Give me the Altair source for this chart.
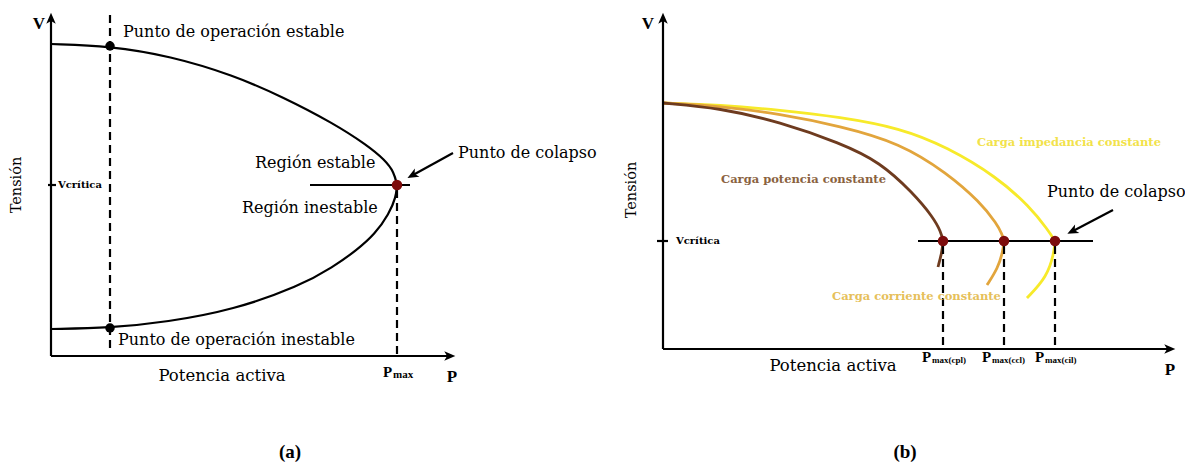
import altair as alt
import pandas as pd

# ---------------- data (diagram coordinates) ----------------
# Panel (a): nose curve, upper (stable) and lower (unstable) branches
a_upper_x = [51, 110, 170, 233, 283, 333, 367, 385, 394, 397]
a_upper_y = [44, 46, 56, 75, 97, 123, 145, 160, 172, 185]
a_lower_x = [397, 396, 389, 375, 357, 333, 300, 233, 167, 110, 51]
a_lower_y = [185, 197, 214, 234, 250, 267, 286, 310, 322, 328, 329]

# Panel (b): three load curves, above and below the collapse point
cpl_up_x = [663, 720, 780, 840, 880, 913, 933, 941, 943]
cpl_up_y = [103, 108, 122, 143, 162, 193, 217, 232, 241]
cpl_lo_x = [943, 942, 938]
cpl_lo_y = [241, 252, 267]
ccl_up_x = [663, 720, 780, 840, 900, 947, 980, 997, 1002, 1004]
ccl_up_y = [103, 106, 114, 126, 143, 173, 202, 224, 234, 241]
ccl_lo_x = [1004, 1003, 998, 987]
ccl_lo_y = [241, 251, 268, 285]
cil_up_x = [663, 720, 780, 840, 900, 947, 997, 1030, 1048, 1055]
cil_up_y = [103, 105, 110, 117, 128, 147, 177, 207, 230, 241]
cil_lo_x = [1055, 1054, 1047, 1027]
cil_lo_y = [241, 253, 277, 298]

# solid segments: x, y, x2, y2
solid_x = [51, 51, 310, 48, 663, 663, 918, 657, 453, 1113]
solid_y = [18, 356, 185, 185, 18, 349, 241, 241, 153, 210]
solid_x2 = [51, 448, 410, 56, 663, 1168, 1093, 668, 413, 1073]
solid_y2 = [356, 356, 185, 185, 349, 349, 241, 241, 175, 231]

# dashed segments
dash_x = [110, 397, 943, 1004, 1055]
dash_y = [15, 190, 246, 246, 246]
dash_y2 = [350, 356, 349, 349, 349]

# arrow heads: centre, angle
head_x = [51, 449, 663, 1169, 413, 1073]
head_y = [19, 356, 19, 349, 175, 231]
head_angle = [0, 90, 0, 90, 241, 243]

# operating points and collapse points
black_dot_x = [110, 110]
black_dot_y = [46, 328]
red_dot_x = [397, 943, 1004, 1055]
red_dot_y = [185, 241, 241, 241]

# ---------------- scales ----------------
W, H = 1177, 456
xsc = alt.Scale(domain=[8, 8 + W], nice=False, zero=False)
ysc = alt.Scale(domain=[8, 8 + H], nice=False, zero=False, reverse=True)
X = lambda f="x": alt.X(f"{f}:Q", scale=xsc, axis=None)
Y = lambda f="y": alt.Y(f"{f}:Q", scale=ysc, axis=None)

layers = []


def curve(xs, ys, color, width):
    df = pd.DataFrame({"x": xs, "y": ys, "i": list(range(len(xs)))})
    return alt.Chart(df).mark_line(color=color, strokeWidth=width, interpolate="basis").encode(
        x=X(), y=Y(), order="i:Q")


layers.append(curve(a_upper_x, a_upper_y, "black", 2.2))
layers.append(curve(a_lower_x, a_lower_y, "black", 2.2))
for xs, ys in [(cil_up_x, cil_up_y), (cil_lo_x, cil_lo_y)]:
    layers.append(curve(xs, ys, "#f7ea2a", 2.8))
for xs, ys in [(ccl_up_x, ccl_up_y), (ccl_lo_x, ccl_lo_y)]:
    layers.append(curve(xs, ys, "#e2a53c", 2.8))
for xs, ys in [(cpl_up_x, cpl_up_y), (cpl_lo_x, cpl_lo_y)]:
    layers.append(curve(xs, ys, "#6e3b1f", 2.8))

sdf = pd.DataFrame({"x": solid_x, "y": solid_y, "x2": solid_x2, "y2": solid_y2})
layers.append(alt.Chart(sdf).mark_rule(color="black", strokeWidth=2.2).encode(
    x=X(), y=Y(), x2="x2:Q", y2="y2:Q"))

ddf = pd.DataFrame({"x": dash_x, "y": dash_y, "y2": dash_y2})
layers.append(alt.Chart(ddf).mark_rule(color="black", strokeWidth=2.2, strokeDash=[8, 5]).encode(
    x=X(), y=Y(), y2="y2:Q"))

hdf = pd.DataFrame({"x": head_x, "y": head_y, "a": head_angle})
layers.append(alt.Chart(hdf).mark_point(
    filled=True, color="black", opacity=1, size=160,
    shape="M0,-1L0.75,0.75L0,0.3L-0.75,0.75Z").encode(
    x=X(), y=Y(), angle=alt.Angle("a:Q", scale=None)))

bdf = pd.DataFrame({"x": black_dot_x, "y": black_dot_y})
layers.append(alt.Chart(bdf).mark_point(filled=True, color="black", opacity=1, size=90).encode(x=X(), y=Y()))
rdf = pd.DataFrame({"x": red_dot_x, "y": red_dot_y})
layers.append(alt.Chart(rdf).mark_point(filled=True, color="#7d0c0c", opacity=1, size=110).encode(x=X(), y=Y()))

# ---------------- texts ----------------
SERIF = "DejaVu Serif"
TIMES = "Liberation Serif"


def texts(rows, size, align="left", font=SERIF, weight="normal", color="black", angle=0):
    df = pd.DataFrame(rows, columns=["x", "y", "t"])
    return alt.Chart(df).mark_text(
        align=align, baseline="middle", fontSize=size, font=font, fontWeight=weight,
        color=color, angle=angle).encode(x=X(), y=Y(), text="t:N")


layers.append(texts([(123, 32, "Punto de operación estable"),
                     (118, 340, "Punto de operación inestable"),
                     (255, 163, "Región estable"),
                     (242, 208, "Región inestable"),
                     (458, 153, "Punto de colapso"),
                     (1047, 192, "Punto de colapso")], 16))
layers.append(texts([(222, 376, "Potencia activa"), (833, 366, "Potencia activa")], 16.5, align="center"))
layers.append(texts([(17, 185, "Tensión"), (632, 190, "Tensión")], 14.5, align="center", angle=270))
layers.append(texts([(58, 185, "Vcrítica"), (676, 241, "Vcrítica")], 10, weight="bold"))
layers.append(texts([(39, 24, "V"), (648, 24, "V"), (452, 377, "P"), (1170, 370, "P")], 17,
                    align="center", font=TIMES, weight="bold"))
layers.append(texts([(383, 372, "P"), (922, 357, "P"), (982, 357, "P"), (1035, 357, "P")], 15,
                    font=TIMES, weight="bold"))
layers.append(texts([(393, 375, "max")], 11, font=TIMES, weight="bold"))
layers.append(texts([(932, 360, "max(cpl)"), (992, 360, "max(ccl)"), (1045, 360, "max(cil)")], 9,
                    font=TIMES, weight="bold"))
layers.append(texts([(721, 180, "Carga potencia constante")], 11.5, weight="bold", color="#8a6240"))
layers.append(texts([(977, 143, "Carga impedancia constante")], 11.5, weight="bold", color="#f2e24a"))
layers.append(texts([(832, 297, "Carga corriente constante")], 11.5, weight="bold", color="#e6c05a"))
layers.append(texts([(290, 452, "(a)"), (905, 452, "(b)")], 19, align="center", font=TIMES, weight="bold"))

chart = alt.layer(*layers).properties(
    width=W, height=H, padding=0, autosize=alt.AutoSizeParams(type="none"), background="white"
).configure_view(stroke=None)

chart.save("out.html", embed_options={"renderer": "svg", "actions": False})
